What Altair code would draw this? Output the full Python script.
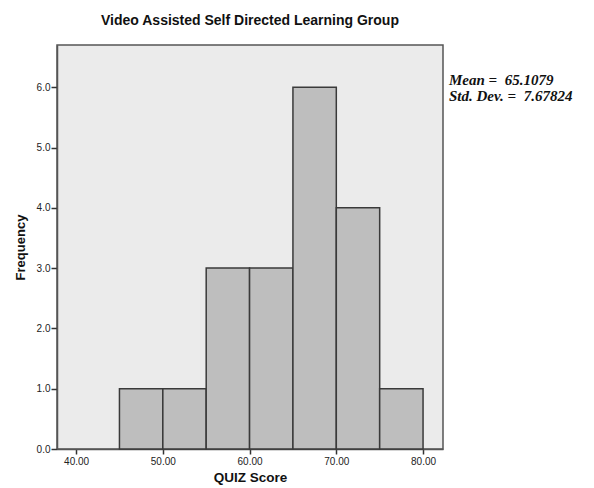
import altair as alt
import pandas as pd

bin_start = [45, 50, 55, 60, 65, 70, 75]
bin_end = [50, 55, 60, 65, 70, 75, 80]
freq = [1, 1, 3, 3, 6, 4, 1]
x_ticks = [40, 50, 60, 70, 80]
y_ticks = [0, 1, 2, 3, 4, 5, 6]
stats_lines = ["Mean =\u00a0\u00a065.1079", "Std. Dev. =\u00a0\u00a07.67824"]

df = pd.DataFrame({"start": bin_start, "end": bin_end, "freq": freq})

xs = alt.Scale(domain=[37.8, 82.3], nice=False, zero=False)
ys = alt.Scale(domain=[0, 6.7], nice=False)

bars = alt.Chart(df).mark_bar(
    color="#BEBEBE", stroke="#3a3a3a", strokeWidth=1.5, binSpacing=0
).encode(
    x=alt.X("start:Q", scale=xs, axis=alt.Axis(
        title="QUIZ Score", values=x_ticks, format=".2f", grid=False,
        labelFont="Liberation Sans", labelFontSize=10, labelColor="#222",
        titleFont="Liberation Sans", titleFontSize=13.5, titleFontWeight="bold",
        titleColor="#111", tickColor="#333", tickSize=5, tickWidth=1.5,
        domainColor="#555", domainWidth=1.5, labelPadding=2, titlePadding=4)),
    x2="end:Q",
    y=alt.Y("freq:Q", scale=ys, axis=alt.Axis(
        title="Frequency", values=y_ticks, format=".1f", grid=False,
        labelFont="Liberation Sans", labelFontSize=10, labelColor="#222",
        titleFont="Liberation Sans", titleFontSize=13, titleFontWeight="bold",
        titleColor="#111", tickColor="#333", tickSize=6, tickWidth=1.5,
        domainColor="#555", domainWidth=1.5, labelPadding=1, titlePadding=9)),
    y2=alt.datum(0),
)

stats_df = pd.DataFrame({"line": stats_lines, "i": [0, 1]})


def stat_text(idx, ypos):
    return alt.Chart(stats_df).transform_filter(
        alt.datum.i == idx
    ).mark_text(
        align="left", baseline="middle", font="Liberation Serif",
        fontSize=15, fontStyle="italic", fontWeight="bold", color="#111"
    ).encode(x=alt.value(392), y=alt.value(ypos), text="line:N")


chart = alt.layer(bars, stat_text(0, 34.5), stat_text(1, 50.5)).properties(
    width=386, height=404,
    title=alt.TitleParams("Video Assisted Self Directed Learning Group",
                          font="Liberation Sans", fontSize=14, fontWeight="bold",
                          color="#111", anchor="middle", offset=17),
    autosize=alt.AutoSizeParams(type="none"),
    padding={"left": 49, "top": 37, "right": 143, "bottom": 38},
).configure_view(fill="#EBEBEB", stroke="#555", strokeWidth=1.5)

chart.save("out.html", embed_options={"renderer": "svg", "actions": False})
